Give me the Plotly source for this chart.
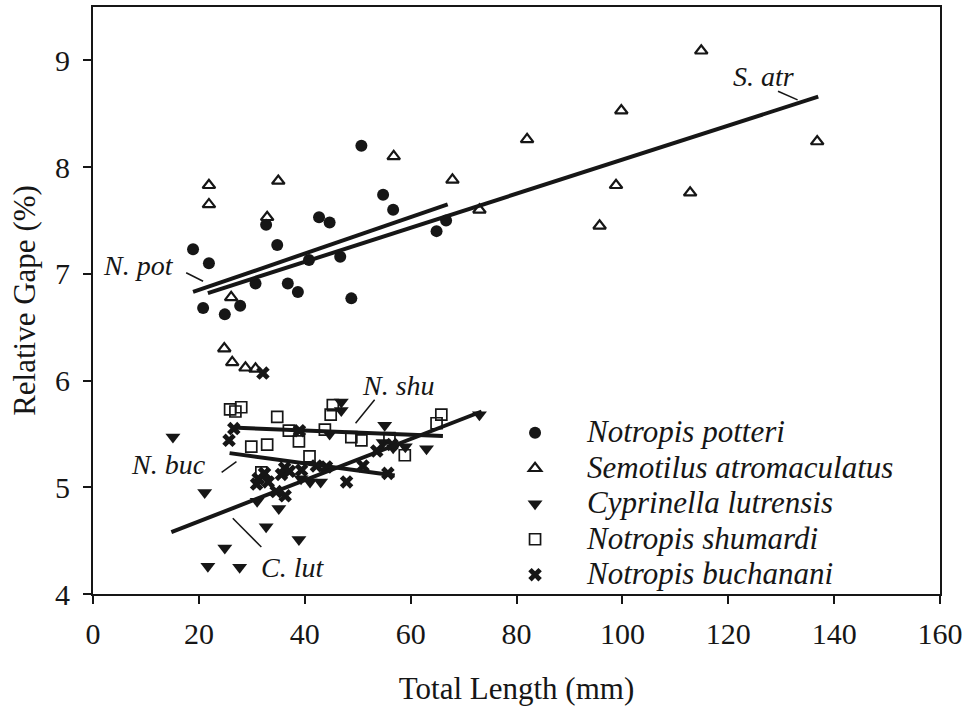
import plotly.graph_objects as go

# ---- data ----
pot_x = [18.9, 21.9, 20.8, 24.9, 27.8, 30.7, 32.7, 34.8, 36.8, 38.7, 40.8, 42.7, 44.7, 46.7, 48.8, 50.7, 54.8, 56.7, 64.9, 66.7]
pot_y = [7.23, 7.10, 6.68, 6.62, 6.70, 6.91, 7.46, 7.27, 6.91, 6.83, 7.13, 7.53, 7.48, 7.16, 6.77, 8.20, 7.74, 7.60, 7.40, 7.50]

atr_x = [21.9, 21.9, 24.8, 26.1, 26.3, 28.8, 30.7, 32.9, 35.0, 56.8, 67.9, 73.0, 82.0, 95.7, 98.8, 99.8, 112.8, 114.9, 136.8]
atr_y = [7.83, 7.65, 6.30, 6.78, 6.17, 6.12, 6.11, 7.53, 7.87, 8.10, 7.88, 7.60, 8.26, 7.45, 7.83, 8.53, 7.76, 9.09, 8.24]

lut_x = [15.1, 21.1, 21.7, 24.9, 27.7, 31.0, 32.7, 35.1, 38.9, 39.3, 41.0, 43.0, 44.7, 46.9, 46.9, 54.8, 55.1, 56.7, 59.0, 63.0, 73.0]
lut_y = [5.47, 4.95, 4.26, 4.43, 4.25, 4.87, 4.63, 4.80, 4.51, 5.08, 5.05, 5.05, 5.50, 5.72, 5.80, 5.42, 5.58, 5.37, 5.38, 5.36, 5.68]

shu_x = [25.9, 26.9, 28.0, 29.9, 31.8, 32.9, 34.8, 37.0, 38.9, 40.9, 43.8, 44.9, 45.3, 48.8, 50.7, 56.0, 58.9, 64.9, 65.8]
shu_y = [5.73, 5.71, 5.75, 5.38, 5.14, 5.40, 5.66, 5.53, 5.43, 5.29, 5.54, 5.68, 5.77, 5.47, 5.44, 5.46, 5.30, 5.60, 5.68]

buc_x = [25.7, 26.6, 30.9, 31.2, 32.1, 32.4, 33.1, 34.6, 35.6, 36.2, 36.3, 37.1, 39.0, 39.4, 42.2, 44.1, 47.9, 51.0, 53.6, 55.7, 56.5]
buc_y = [5.44, 5.55, 5.03, 5.08, 6.07, 5.13, 5.05, 4.96, 5.12, 5.18, 4.92, 5.15, 5.53, 5.16, 5.20, 5.19, 5.05, 5.20, 5.34, 5.13, 5.40]

species = ["Notropis potteri", "Semotilus atromaculatus", "Cyprinella lutrensis",
           "Notropis shumardi", "Notropis buchanani"]

# regression lines: endpoints
fit_x0 = [18.9, 21.7, 14.8, 26.1, 25.8]
fit_x1 = [67.0, 137.0, 73.4, 66.1, 57.0]
fit_y0 = [6.83, 6.82, 4.58, 5.56, 5.32]
fit_y1 = [7.65, 8.66, 5.71, 5.48, 5.11]

# fit labels and leader lines
lab_text = ["N. pot", "S. atr", "C. lut", "N. shu", "N. buc"]
lab_x = [8.6, 126.6, 37.7, 57.7, 14.3]
lab_y = [7.08, 8.85, 4.25, 5.95, 5.21]
lead_x0 = [17.6, 129.4, 26.4, 53.2, 24.3]
lead_y0 = [7.01, 8.71, 4.71, 5.82, 5.14]
lead_x1 = [20.8, 133.1, 31.8, 49.6, 27.1]
lead_y1 = [6.93, 8.63, 4.44, 5.60, 5.24]

x_ticks = [0, 20, 40, 60, 80, 100, 120, 140, 160]
y_ticks = [4, 5, 6, 7, 8, 9]

INK = "#161616"
FONT = "Liberation Serif"

fig = go.Figure()

series = [
    (pot_x, pot_y, dict(symbol="circle", size=12, color=INK)),
    (atr_x, atr_y, dict(symbol="triangle-up-open", size=11, color=INK, line=dict(width=2.2, color=INK))),
    (lut_x, lut_y, dict(symbol="triangle-down", size=13, color=INK)),
    (shu_x, shu_y, dict(symbol="square-open", size=11, color=INK, line=dict(width=1.7, color=INK))),
    (buc_x, buc_y, dict(symbol="x", size=12, color=INK, line=dict(width=0))),
]
for (xs, ys, mk), name in zip(series, species):
    fig.add_trace(go.Scatter(
        x=xs, y=ys, mode="markers", marker=mk,
        name='<span style="font-size:31px">' + name + '</span>',
    ))

for i in range(len(fit_x0)):
    fig.add_trace(go.Scatter(
        x=[fit_x0[i], fit_x1[i]], y=[fit_y0[i], fit_y1[i]], mode="lines",
        line=dict(color=INK, width=4), showlegend=False, hoverinfo="skip"))
    fig.add_trace(go.Scatter(
        x=[lead_x0[i], lead_x1[i]], y=[lead_y0[i], lead_y1[i]], mode="lines",
        line=dict(color=INK, width=1.5), showlegend=False, hoverinfo="skip"))
    fig.add_annotation(x=lab_x[i], y=lab_y[i], text=lab_text[i], showarrow=False,
                       font=dict(family=FONT, size=28, color=INK, style="italic"))

axis_common = dict(
    showgrid=False, zeroline=False, showline=True, linecolor=INK, linewidth=2,
    mirror=True, ticks="outside", ticklen=8, tickwidth=2, tickcolor=INK,
    tickfont=dict(family=FONT, size=30, color=INK),
)
fig.update_xaxes(range=[0, 160], tickvals=x_ticks, ticklabelstandoff=4,
                 title=dict(text="Total Length (mm)", font=dict(family=FONT, size=31, color=INK), standoff=28),
                 **axis_common)
fig.update_yaxes(range=[4, 9.5], tickvals=y_ticks, ticklabelstandoff=7,
                 title=dict(text="Relative Gape (%)", font=dict(family=FONT, size=31, color=INK), standoff=10),
                 **axis_common)

fig.update_layout(
    width=971, height=706,
    margin=dict(l=93, r=31, t=7, b=112, autoexpand=False),
    plot_bgcolor="white", paper_bgcolor="white",
    font=dict(family=FONT, color=INK),
    legend=dict(x=0.4605, y=0.3135, xanchor="left", yanchor="top",
                font=dict(family=FONT, size=25, color=INK, style="italic"),
                itemwidth=94, bgcolor="rgba(0,0,0,0)", borderwidth=0),
)

fig.write_html("out.html")
